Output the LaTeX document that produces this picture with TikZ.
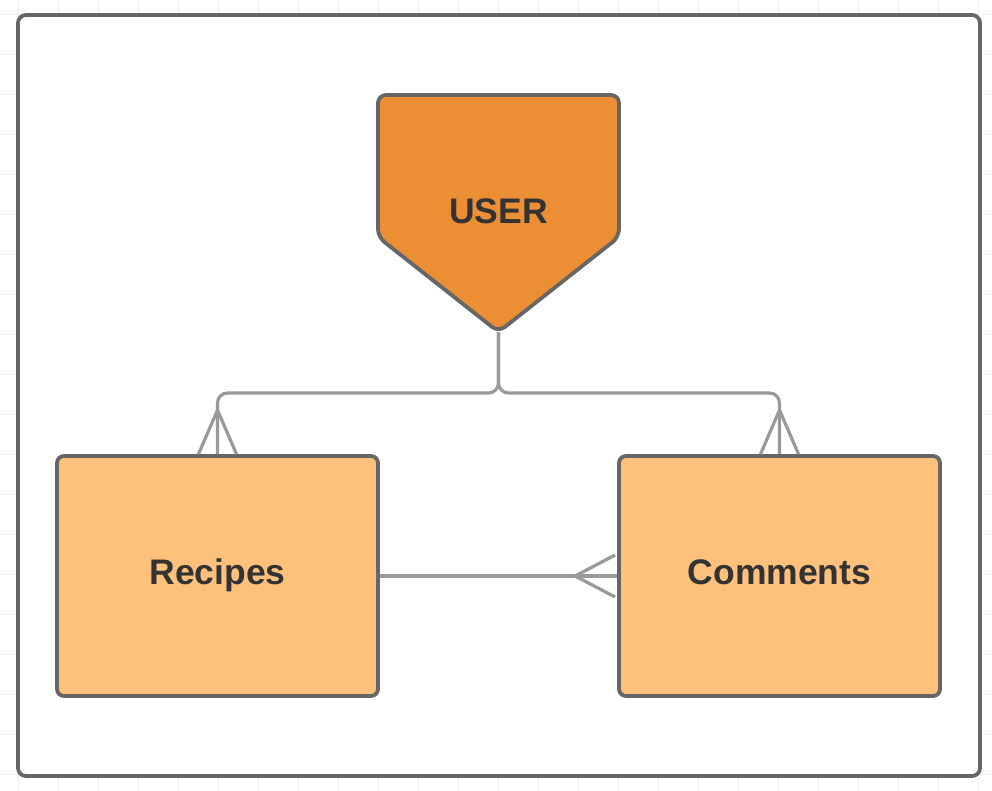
\documentclass[tikz,border=0pt]{standalone}
\usepackage{fontspec}
\setmainfont{Liberation Sans}
\usetikzlibrary{positioning,calc}
\definecolor{orange500}{HTML}{EC8E33}
\definecolor{orange200}{HTML}{FEC17B}
\definecolor{grey700}  {HTML}{666666}
\definecolor{grey500}  {HTML}{999999}
\definecolor{grey100}  {HTML}{EDEDED}
\definecolor{ink}      {HTML}{333333}
\tikzset{
  ent/.style    ={draw=grey700, line width=3.8pt, fill=orange200,
                  rounded corners=7pt, align=center,
                  minimum width=321pt, minimum height=240pt,
                  text height=25pt, text depth=9pt,
                  font=\bfseries\fontsize{35.5}{40}\selectfont, text=ink},
  head/.style   ={draw=grey700, line width=3.8pt, fill=orange500,
                  rounded corners=8pt},
  headtxt/.style={minimum width=241pt, minimum height=237pt,
                  text height=25pt, text depth=6pt,
                  font=\bfseries\fontsize{35.5}{40}\selectfont, text=ink},
  conn/.style   ={draw=grey500, line width=3.2pt, rounded corners=10pt},
  foot/.style   ={draw=grey500, line width=3.2pt},
  frame/.style  ={draw=grey700, line width=3.8pt, fill=white,
                  rounded corners=8pt},
  gridln/.style ={draw=grey100, line width=1pt}
}
\begin{document}
\begin{tikzpicture}[x=1pt, y=-1pt]
\useasboundingbox (0,0) rectangle (992,790);
\foreach \gx in {18,58,...,978} \draw[gridln] (\gx,0) -- (\gx,790);
\foreach \gy in {14,54,...,774} \draw[gridln] (0,\gy) -- (992,\gy);
\draw[frame] (18,15) rectangle (980,776);

% user entity (pointed head)
\draw[head] (378,95) -- (619,95) -- (619,237) -- (498.5,332)
  -- (378,237) -- cycle;
\node[headtxt] (user) at (498.5,213.5) {USER};

\node[ent] (recipes)  at (217.5,576) {Recipes};
\node[ent] (comments) at (779.5,576) {Comments};

\coordinate (split) at (498.5,393);
\draw[conn] (user.south) -- (split) -| (recipes.north);
\draw[conn] (user.south) -- (split) -| (comments.north);
\draw[foot] ($(recipes.north)+(-19,0)$) -- ++(19,-44) -- ++(19,44);
\draw[foot] ($(comments.north)+(-19,0)$) -- ++(19,-44) -- ++(19,44);

\draw[foot] (recipes.east) -- (comments.west);
\draw[foot] ($(comments.west)+(-2,-21)$) -- ++(-40,21) -- ++(40,21);
\end{tikzpicture}
\end{document}
